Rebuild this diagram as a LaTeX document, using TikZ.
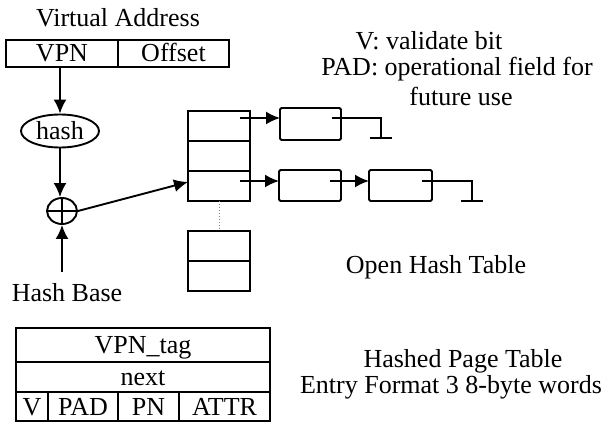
\documentclass[tikz,border=0pt]{standalone}
\usepackage{fontspec}
\setmainfont{Liberation Serif}
\usetikzlibrary{arrows.meta,shapes.geometric}

\begin{document}
\begin{tikzpicture}[x=1pt,y=-1pt,line width=1.9pt,
  every node/.style={font=\fontsize{26}{28}\selectfont},
  lbl/.style={inner sep=0pt,anchor=base},
  field/.style={draw,inner sep=0pt,outer sep=0pt,text height=17pt,text depth=0pt},
  cell/.style={draw,minimum width=62pt,minimum height=30pt,inner sep=0pt,outer sep=0pt},
  item/.style={draw,rounded corners=1.5pt,minimum height=31pt,inner sep=0pt,outer sep=0pt},
  ptr/.style={-{Latex[length=14pt,width=13pt]}}]

\useasboundingbox (0,0) rectangle (610,425);

% virtual address word
\node[lbl] (va) at (118,27) {Virtual Address};
\node[field,minimum width=112pt,minimum height=27pt] (vpn) at (62,53.5) {VPN};
\node[field,minimum width=111pt,minimum height=27pt] (off) at (173.5,53.5) {Offset};

% hashing path
\node[draw,ellipse,minimum width=78pt,minimum height=33pt,inner sep=0pt,
      text height=17pt,text depth=0pt] (hash) at (60,131) {hash};
\node[draw,ellipse,minimum width=30pt,minimum height=26pt,inner sep=0pt] (op) at (62,211) {};
\draw (op.north) -- (op.south) (op.west) -- (op.east);
\coordinate (hb) at (62,272);
\node[lbl] (hbt) at (67,301) {Hash Base};

\draw[ptr] (vpn.south -| hash.north) -- (hash.north);
\draw[ptr] (hash.south) -- (hash.south |- op.north);
\draw[ptr] (hb) -- (op.south);

% bucket array
\node[cell] (c1) at (219,126) {};
\node[cell] (c2) at (219,156) {};
\node[cell] (c3) at (219,186) {};
\node[cell] (c4) at (219,246) {};
\node[cell] (c5) at (219,276) {};
\draw[dotted,line width=1pt,gray] (c3.south) -- (c4.north);

\coordinate (hin) at (188,182);
\draw[ptr] (op.east) -- (hin);

% chained entries
\node[item,minimum width=61pt,minimum height=32pt] (n1) at (310.5,124) {};
\node[item,minimum width=62pt] (na) at (310,185.5) {};
\node[item,minimum width=63pt] (nb) at (400.5,185.5) {};

\coordinate (s1) at (240,118);
\coordinate (s3) at (240,181);
\coordinate (sa) at (330,181);
\draw[ptr] (s1) -- (n1.west |- s1);
\draw[ptr] (s3) -- (na.west |- s3);
\draw[ptr] (sa) -- (nb.west |- sa);

% null terminators
\coordinate (e1) at (332,118);
\coordinate (g1) at (381,138);
\draw (e1) -| (g1);
\draw (g1) ++(-11,0) -- ++(22,0);
\coordinate (eb) at (422,181);
\coordinate (g2) at (472,201);
\draw (eb) -| (g2);
\draw (g2) ++(-11,0) -- ++(22,0);

% legend
\node[lbl] (lv) at (429,50) {V: validate bit};
\node[lbl] (lp1) at (457,76) {PAD: operational field for};
\node[lbl] (lp2) at (461,106) {future use};
\node[lbl] (oht) at (436,273) {Open Hash Table};
\node[lbl] (hpt) at (463,367) {Hashed Page Table};
\node[lbl] (efw) at (451,393) {Entry Format 3 8-byte words};

% entry format
\node[field,minimum width=254pt,minimum height=34pt] (tag) at (143,345) {VPN\_tag};
\node[field,minimum width=254pt,minimum height=30pt] (nx) at (143,377) {next};
\node[field,minimum width=32pt,minimum height=29pt] (fv) at (32,406.5) {V};
\node[field,minimum width=70pt,minimum height=29pt] (fpad) at (83,406.5) {PAD};
\node[field,minimum width=61pt,minimum height=29pt] (fpn) at (148.5,406.5) {PN};
\node[field,minimum width=91pt,minimum height=29pt] (fattr) at (224.5,406.5) {ATTR};
\end{tikzpicture}
\end{document}
